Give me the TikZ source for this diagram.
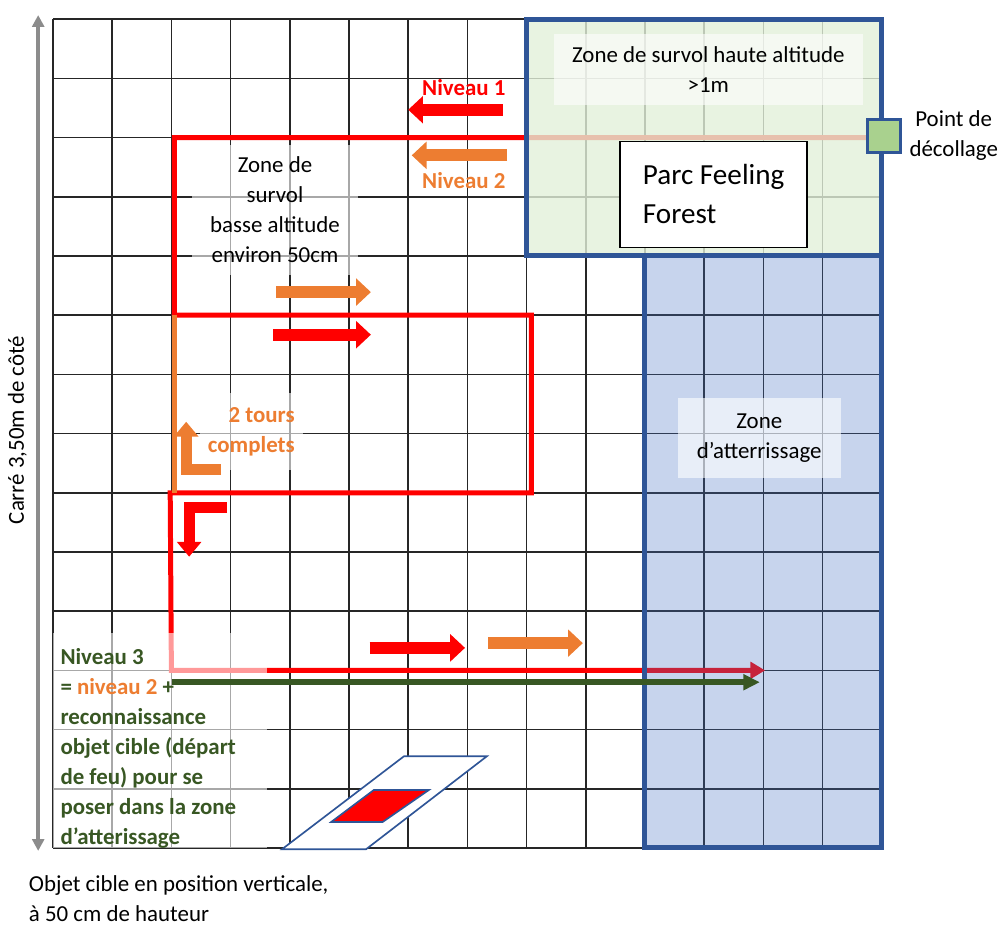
\documentclass[tikz,border=0pt]{standalone}
\usepackage{fontspec}
\setmainfont{Carlito}
\usepackage{tikz}
\usetikzlibrary{arrows.meta,positioning}

\definecolor{routered}{HTML}{FF0000}
\definecolor{routeorange}{HTML}{ED7D31}
\definecolor{routegreen}{HTML}{385723}
\definecolor{borderblue}{HTML}{2F5597}
\definecolor{hautefill}{HTML}{E2F0D9}
\definecolor{landfill}{HTML}{4472C4}
\definecolor{takeofffill}{HTML}{A9D18E}
\definecolor{sidegray}{HTML}{8C8C8C}

\begin{document}
\begin{tikzpicture}[
    font=\fontsize{11}{14.4}\selectfont,
    gridline/.style={black!85, line width=0.7pt},
    zoneborder/.style={draw=borderblue, line width=2.4pt},
    route/.style={routered, line width=2.4pt},
    fatarrow/.style={line width=5.8pt, -{Triangle[length=0.25cm, width=0.45cm]}},
    textbox/.style={fill=white, fill opacity=0.6, text opacity=1, align=center, inner sep=0pt},
    levellabel/.style={font=\fontsize{11}{14.4}\selectfont\bfseries}
]
\useasboundingbox (-0.895,-1.318) rectangle (15.98,14.324);

\draw[gridline] (0,0) grid (14,14);

\coordinate (r0) at (13.76,12);
\coordinate (r1) at (2.05,12);
\coordinate (r2) at (2.05,9);
\coordinate (r3) at (8.08,9);
\coordinate (r4) at (8.08,6);
\coordinate (r5) at (1.98,6);
\coordinate (r6) at (2.0,3);
\coordinate (r7) at (12.03,3);
\draw[route, -{Triangle[length=0.25cm, width=0.28cm]}]
    (r0) -- (r1) -- (r2) -- (r3) -- (r4) -- (r5) -- (r6) -- (r7);
\draw[routeorange, line width=2.4pt] (r2) -- (2.05,6);

\fill[landfill, fill opacity=0.3] (10,0) rectangle (14,10);
\fill[hautefill, fill opacity=0.8] (8,10) rectangle (14,14);
\draw[zoneborder] (8,10) rectangle (14,14);
\draw[zoneborder] (10,10) -- (10,0) -- (14,0) -- (14,10);

\node[textbox, minimum width=5.22cm, minimum height=1.21cm] (haute) at (11.07,13.15)
    {Zone de survol haute altitude\\>1m};
\node[textbox, minimum width=2.8cm, minimum height=2.2cm] (basse) at (3.75,10.78)
    {Zone de\\survol\\basse altitude\\environ 50cm};
\node[textbox, levellabel, text=routeorange, align=right, minimum width=1.75cm, minimum height=1.3cm] (tours) at (3.35,7.03)
    {2 tours\\complets};
\node[textbox, minimum width=2.75cm, minimum height=1.35cm] (landlabel) at (11.93,6.92)
    {Zone\\d’atterrissage};

\draw[fatarrow, routered] (7.6,12.47) -- (6.0,12.47);
\draw[fatarrow, routeorange] (7.67,11.7) -- (6.06,11.7);
\draw[fatarrow, routeorange] (3.77,9.39) -- (5.37,9.39);
\draw[fatarrow, routered] (3.72,8.67) -- (5.37,8.67);
\draw[fatarrow, routered] (5.35,3.38) -- (6.96,3.38);
\draw[fatarrow, routeorange] (7.35,3.46) -- (8.95,3.46);
\draw[routeorange, line width=0.19cm, -{Triangle[length=0.25cm, width=0.4cm]}] (2.84,6.39) -| (2.25,7.2);
\draw[routered, line width=0.19cm, -{Triangle[length=0.25cm, width=0.4cm]}] (2.94,5.75) -| (2.3,4.92);

\node[levellabel, text=routered] (niv1) at (6.94,12.84) {Niveau 1};
\node[levellabel, text=routeorange] (niv2) at (6.94,11.28) {Niveau 2};

\node[fill=white, fill opacity=0.6, minimum width=3.61cm, minimum height=3.63cm, anchor=south west, inner sep=0pt] (niv3box) at (0,0) {};
\begin{scope}
\clip (niv3box.south west) rectangle (niv3box.north east);
\node[levellabel, text=routegreen, anchor=north west, align=left, inner sep=0pt] (niv3) at (0.12,3.37)
    {Niveau 3\\= {\color{routeorange}niveau 2} +\\reconnaissance\\objet cible (départ\\de feu) pour se\\poser dans la zone\\d’atterissage};
\end{scope}

\coordinate (g0) at (2.01,2.8);
\coordinate (g1) at (11.94,2.8);
\draw[routegreen, line width=2.9pt, -{Triangle[length=0.28cm, width=0.26cm]}] (g0) -- (g1);

\node[draw=black, line width=0.8pt, fill=white, minimum width=3.16cm, minimum height=1.79cm, align=left, font=\fontsize{14}{18.8}\selectfont] (parc) at (11.16,11.04)
    {Parc Feeling\\Forest};
\node[draw=borderblue, fill=takeofffill, line width=1.4pt, minimum size=0.56cm, inner sep=0pt] (takeoff) at (14.04,12.03) {};
\node[align=center, right=0cm of takeoff] (takeofflabel) {Point de\\décollage};

\draw[draw=borderblue, line width=0.8pt, fill=white] (3.87,-0.02) -- (5.29,-0.02) -- (7.33,1.55) -- (5.93,1.55) -- cycle;
\draw[draw=borderblue, line width=0.8pt, fill=routered] (4.70,0.44) -- (5.57,0.44) -- (6.35,0.98) -- (5.42,0.98) -- cycle;

\coordinate (sidetop) at (-0.25,14.07);
\coordinate (sidebot) at (-0.25,-0.05);
\draw[sidegray, line width=1.7pt, {Triangle[length=0.2cm, width=0.2cm]}-{Triangle[length=0.2cm, width=0.2cm]}] (sidetop) -- (sidebot);
\node[rotate=90] (cote) at (-0.6,7.06) {Carré 3,50m de côté};

\node[anchor=west, align=left] (caption) at (-0.53,-0.86)
    {Objet cible en position verticale,\\à 50 cm de hauteur};

\end{tikzpicture}
\end{document}
